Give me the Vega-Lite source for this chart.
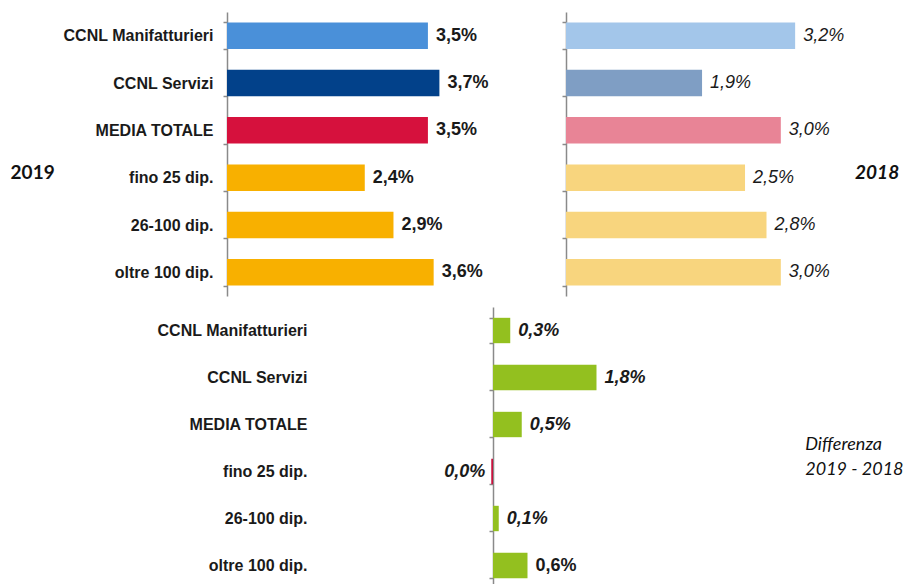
{
  "$schema": "https://vega.github.io/schema/vega-lite/v6.json",
  "padding": {"left": 10, "top": 4, "right": 0, "bottom": 0},
  "background": "white",
  "config": {
    "view": {"stroke": null},
    "axis": {
      "domainColor": "#8a8a8a", "domainWidth": 1.5, "tickColor": "#8a8a8a", "tickWidth": 1.5, "tickSize": 4,
      "tickBand": "extent", "labelFont": "Liberation Sans", "labelFontWeight": "bold", "labelFontSize": 16,
      "labelColor": "#1a1a1a", "grid": false, "title": null
    }
  },
  "datasets": {
    "y2019": [
      {"cat": "CCNL Manifatturieri", "v": 3.5, "label": "3,5%"},
      {"cat": "CCNL Servizi", "v": 3.7, "label": "3,7%"},
      {"cat": "MEDIA TOTALE", "v": 3.5, "label": "3,5%"},
      {"cat": "fino 25 dip.", "v": 2.4, "label": "2,4%"},
      {"cat": "26-100 dip.", "v": 2.9, "label": "2,9%"},
      {"cat": "oltre 100 dip.", "v": 3.6, "label": "3,6%"}
    ],
    "y2018": [
      {"cat": "CCNL Manifatturieri", "v": 3.2, "label": "3,2%"},
      {"cat": "CCNL Servizi", "v": 1.9, "label": "1,9%"},
      {"cat": "MEDIA TOTALE", "v": 3.0, "label": "3,0%"},
      {"cat": "fino 25 dip.", "v": 2.5, "label": "2,5%"},
      {"cat": "26-100 dip.", "v": 2.8, "label": "2,8%"},
      {"cat": "oltre 100 dip.", "v": 3.0, "label": "3,0%"}
    ],
    "diff": [
      {"cat": "CCNL Manifatturieri", "v": 0.3, "label": "0,3%"},
      {"cat": "CCNL Servizi", "v": 1.8, "label": "1,8%"},
      {"cat": "MEDIA TOTALE", "v": 0.5, "label": "0,5%"},
      {"cat": "fino 25 dip.", "v": -0.03, "label": "0,0%"},
      {"cat": "26-100 dip.", "v": 0.1, "label": "0,1%"},
      {"cat": "oltre 100 dip.", "v": 0.6, "label": "0,6%"}
    ]
  },
  "resolve": {"scale": {"x": "independent", "y": "independent", "color": "independent"}},
  "spacing": 3,
  "vconcat": [
    {
      "bounds": "flush",
      "spacing": 39,
      "resolve": {"scale": {"x": "independent", "y": "independent", "color": "independent"}},
      "hconcat": [
        {
          "width": 300, "height": 284,
          "title": {"text": "2019", "orient": "left", "angle": 0, "align": "right", "baseline": "middle", "anchor": "middle", "offset": -36, "dy": 19, "font": "Lato", "fontSize": 19, "fontWeight": "bold", "color": "#111111"},
          "data": {"name": "y2019"},
          "encoding": {
            "y": {"field": "cat", "type": "nominal", "sort": null, "scale": {"paddingInner": 0.44, "paddingOuter": 0.22}, "axis": {"labelPadding": 10}},
            "x": {"field": "v", "type": "quantitative", "scale": {"domain": [0, 5.226], "nice": false}, "axis": null}
          },
          "layer": [
            {"mark": {"type": "bar"}, "encoding": {"color": {"field": "cat", "type": "nominal", "legend": null,
              "scale": {"domain": ["CCNL Manifatturieri", "CCNL Servizi", "MEDIA TOTALE", "fino 25 dip.", "26-100 dip.", "oltre 100 dip."],
                        "range": ["#4a90d9", "#02418a", "#d6113d", "#f8b000", "#f8b000", "#f8b000"]}}}},
            {"mark": {"type": "text", "align": "left", "baseline": "middle", "dx": 8, "font": "Liberation Sans", "fontSize": 18, "fontWeight": "bold", "color": "#1a1a1a"},
             "encoding": {"text": {"field": "label"}}}
          ]
        },
        {
          "width": 285, "height": 284,
          "title": {"text": "2018", "orient": "right", "angle": 0, "align": "left", "baseline": "middle", "anchor": "middle", "offset": -40, "dy": 19, "font": "Lato", "fontSize": 19, "fontStyle": "italic", "fontWeight": "bold", "color": "#111111"},
          "data": {"name": "y2018"},
          "encoding": {
            "y": {"field": "cat", "type": "nominal", "sort": null, "scale": {"paddingInner": 0.44, "paddingOuter": 0.22}, "axis": {"labels": false}},
            "x": {"field": "v", "type": "quantitative", "scale": {"domain": [0, 3.98], "nice": false}, "axis": null}
          },
          "layer": [
            {"mark": {"type": "bar"}, "encoding": {"color": {"field": "cat", "type": "nominal", "legend": null,
              "scale": {"domain": ["CCNL Manifatturieri", "CCNL Servizi", "MEDIA TOTALE", "fino 25 dip.", "26-100 dip.", "oltre 100 dip."],
                        "range": ["#a3c6ea", "#7f9ec4", "#e88496", "#f8d57e", "#f8d57e", "#f8d57e"]}}}},
            {"mark": {"type": "text", "align": "left", "baseline": "middle", "dx": 8, "font": "Liberation Sans", "fontSize": 18, "fontStyle": "italic", "color": "#1a1a1a"},
             "encoding": {"text": {"field": "label"}}}
          ]
        }
      ]
    },
    {
      "width": 580, "height": 282,
      "title": {"text": ["Differenza", "2019 - 2018"], "orient": "right", "angle": 0, "align": "left", "baseline": "middle", "anchor": "middle", "offset": -100, "dy": -3, "font": "Lato", "fontSize": 18, "fontStyle": "italic", "fontWeight": "normal", "lineHeight": 25, "color": "#111111"},
      "data": {"name": "diff"},
      "encoding": {
        "y": {"field": "cat", "type": "nominal", "sort": null, "scale": {"paddingInner": 0.46, "paddingOuter": 0.23}, "axis": {"labelPadding": 182, "offset": -266}},
        "x": {"field": "v", "type": "quantitative", "scale": {"domain": [-4.626, 5.461], "nice": false}, "axis": null}
      },
      "layer": [
        {"mark": {"type": "bar"}, "encoding": {"color": {"condition": {"test": "datum.v < 0", "value": "#c8103c"}, "value": "#93c01f"}}},
        {"transform": [{"filter": "datum.v >= 0 && datum.cat != 'oltre 100 dip.'"}],
         "mark": {"type": "text", "align": "left", "baseline": "middle", "dx": 8, "font": "Liberation Sans", "fontSize": 18, "fontStyle": "italic", "fontWeight": "bold", "color": "#1a1a1a"},
         "encoding": {"text": {"field": "label"}}},
        {"transform": [{"filter": "datum.cat == 'oltre 100 dip.'"}],
         "mark": {"type": "text", "align": "left", "baseline": "middle", "dx": 8, "font": "Liberation Sans", "fontSize": 18, "fontWeight": "bold", "color": "#1a1a1a"},
         "encoding": {"text": {"field": "label"}}},
        {"transform": [{"filter": "datum.v < 0"}],
         "mark": {"type": "text", "align": "right", "baseline": "middle", "dx": -6, "font": "Liberation Sans", "fontSize": 18, "fontStyle": "italic", "fontWeight": "bold", "color": "#1a1a1a"},
         "encoding": {"text": {"field": "label"}}}
      ]
    }
  ]
}
